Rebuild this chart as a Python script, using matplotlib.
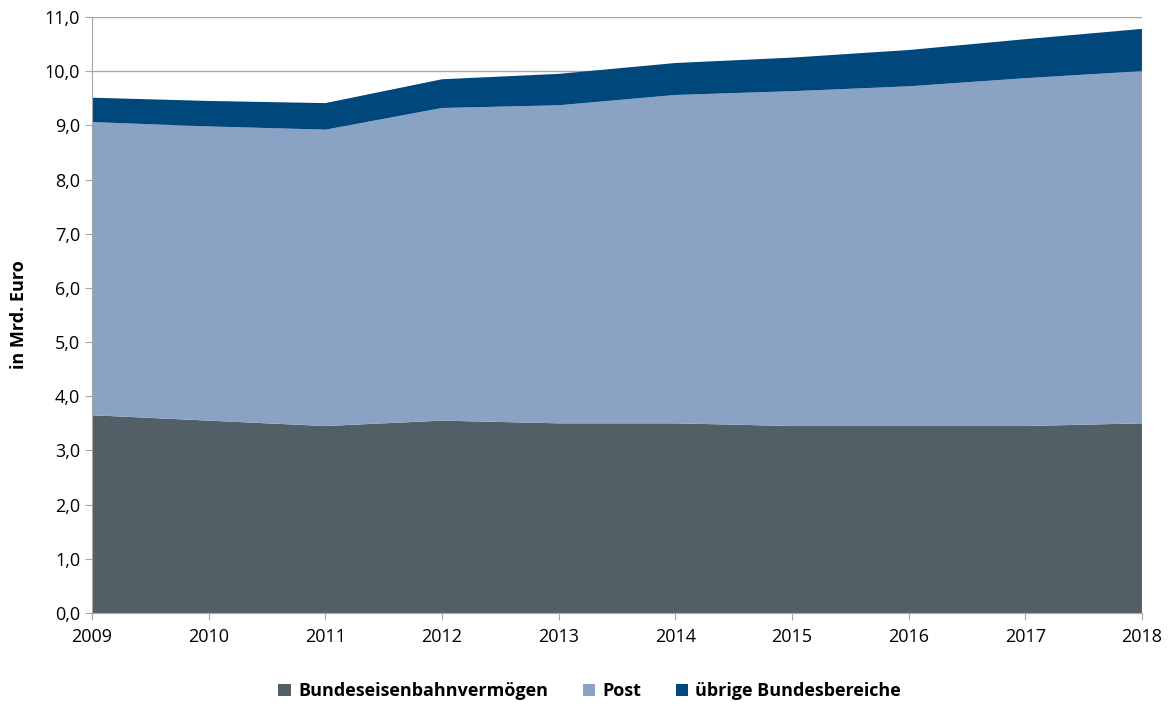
import matplotlib.pyplot as plt
import numpy as np
from matplotlib.patches import Patch

plt.rcParams['font.family'] = ['Open Sans', 'DejaVu Sans']

years = [2009, 2010, 2011, 2012, 2013, 2014, 2015, 2016, 2017, 2018]
bahn = [3.65, 3.55, 3.45, 3.55, 3.50, 3.50, 3.45, 3.45, 3.45, 3.50]
post = [5.41, 5.43, 5.47, 5.77, 5.87, 6.06, 6.18, 6.27, 6.42, 6.50]
uebrige = [0.45, 0.47, 0.49, 0.53, 0.58, 0.59, 0.62, 0.67, 0.72, 0.78]

labels = ['Bundeseisenbahnvermögen', 'Post', 'übrige Bundesbereiche']
colors = ['#525f66', '#8aa3c4', '#00477b']

fig = plt.figure(figsize=(11.68, 7.07), dpi=100)
ax = fig.add_axes([0.0788, 0.133, 0.8989, 0.843])

ax.stackplot(years, bahn, post, uebrige, colors=colors, zorder=2)

ax.set_xlim(2009, 2018)
ax.set_ylim(0, 11)
ax.set_xticks(years)
ax.set_yticks(np.arange(0, 12, 1))
ax.set_yticklabels([f'{v:.1f}'.replace('.', ',') for v in range(0, 12)])
ax.yaxis.grid(True, color='#a6a6a6', linewidth=1, zorder=0)
ax.set_axisbelow(True)

for s in ['top', 'right']:
    ax.spines[s].set_visible(False)
for s in ['left', 'bottom']:
    ax.spines[s].set_color('#a6a6a6')
    ax.spines[s].set_zorder(3)
ax.tick_params(axis='both', colors='#a6a6a6', labelcolor='black',
               labelsize=13, length=5, direction='out')
ax.tick_params(axis='x', pad=6)

ax.set_ylabel('in Mrd. Euro', fontsize=13, fontweight='bold', labelpad=12)

handles = [Patch(facecolor=c) for c in colors]
leg = fig.legend(handles, labels, loc='center', bbox_to_anchor=(0.505, 0.022),
                 ncol=3, frameon=False, fontsize=13, handlelength=0.7,
                 handleheight=0.7, columnspacing=1.9, handletextpad=0.4)
for t in leg.get_texts():
    t.set_fontweight('bold')

fig.savefig('out.png', dpi=100)
